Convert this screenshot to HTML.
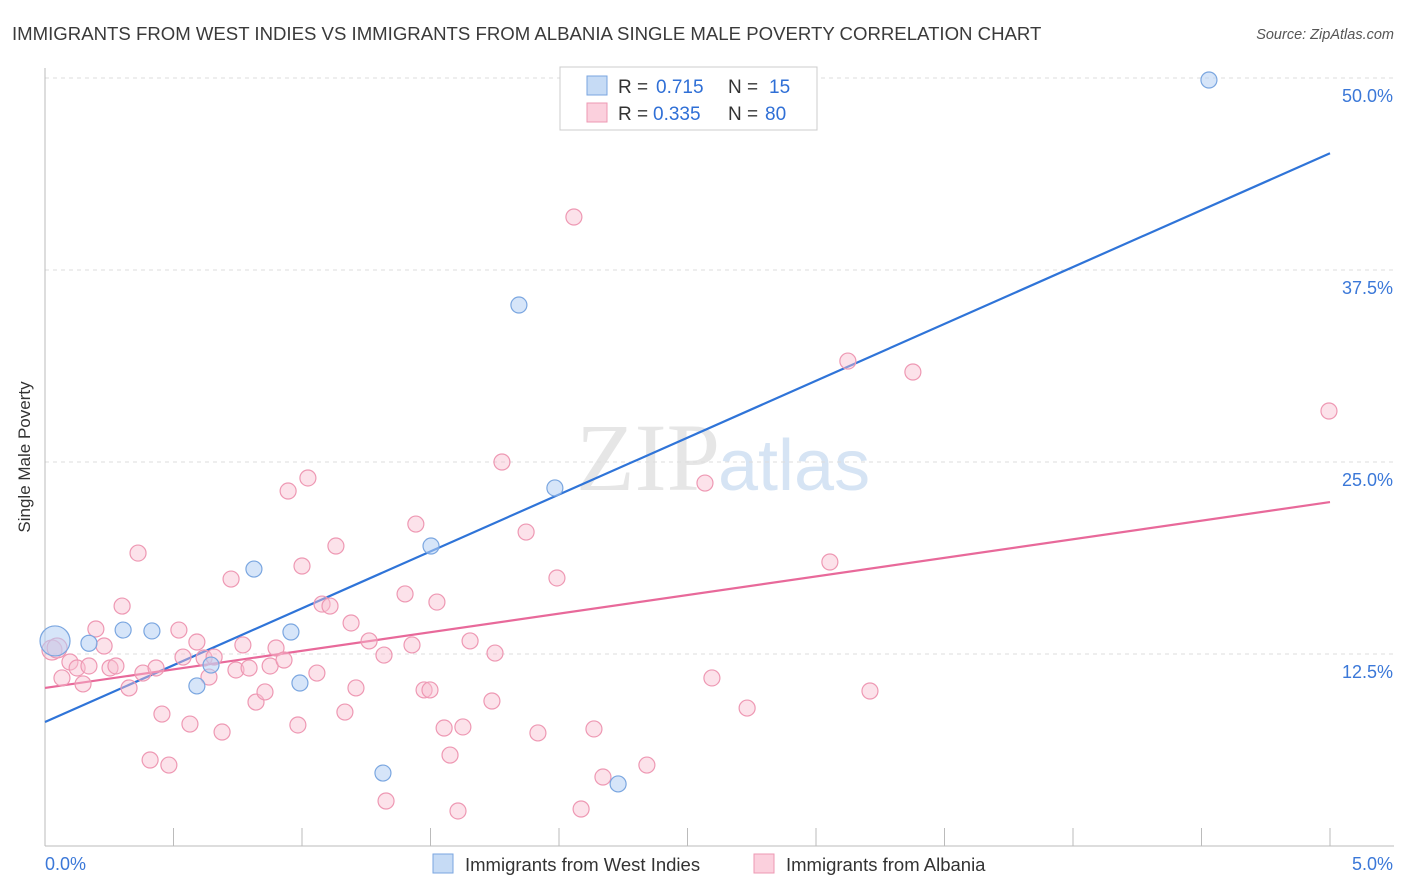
<!DOCTYPE html>
<html><head><meta charset="utf-8"><style>
body{margin:0;background:#fff;font-family:"Liberation Sans",sans-serif}
svg{display:block}
</style></head><body>
<svg id="c" width="1406" height="892">
<text x="12" y="40" font-size="18.6" fill="#3a3a3a">IMMIGRANTS FROM WEST INDIES VS IMMIGRANTS FROM ALBANIA SINGLE MALE POVERTY CORRELATION CHART</text>
<text x="1394" y="39" font-size="14.5" fill="#555" font-style="italic" text-anchor="end">Source: ZipAtlas.com</text>
<text x="30" y="457" font-size="17" fill="#333" text-anchor="middle" transform="rotate(-90 30 457)">Single Male Poverty</text>
<text x="720" y="490" font-size="96" font-family="Liberation Serif,serif" fill="#e6e6e6" text-anchor="end">ZIP</text>
<text x="718" y="490" font-size="72" fill="#d6e4f4">atlas</text>
<g id="grid"></g><g id="axes"></g><g id="trend"></g><g id="pts"></g>
<g>
<rect x="560" y="67" width="257" height="63" fill="#fff" stroke="#ccc"/>
<rect x="587" y="76" width="20" height="19" fill="#c6dbf5" stroke="#7aa6e0"/>
<rect x="587" y="103" width="20" height="19" fill="#fbd0dd" stroke="#ee98b3"/>
<text x="618" y="93" font-size="19" fill="#333">R =</text>
<text x="656" y="93" font-size="19" fill="#2f6fd6">0.715</text>
<text x="728" y="93" font-size="19" fill="#333">N =</text>
<text x="769" y="93" font-size="19" fill="#2f6fd6">15</text>
<text x="618" y="120" font-size="19" fill="#333">R =</text>
<text x="653" y="120" font-size="19" fill="#2f6fd6">0.335</text>
<text x="728" y="120" font-size="19" fill="#333">N =</text>
<text x="765" y="120" font-size="19" fill="#2f6fd6">80</text>
</g>
<g>
<rect x="433" y="854" width="20" height="19" fill="#c6dbf5" stroke="#7aa6e0"/>
<text x="465" y="871" font-size="18.5" fill="#333">Immigrants from West Indies</text>
<rect x="754" y="854" width="20" height="19" fill="#fbd0dd" stroke="#ee98b3"/>
<text x="786" y="871" font-size="18.5" fill="#333">Immigrants from Albania</text>
</g>
</svg>
<script>
const yTicks=[12.5,25,37.5,50];
const yTickLabels=["12.5%","25.0%","37.5%","50.0%"];
const xTicks=[0,0.5,1,1.5,2,2.5,3,3.5,4,4.5,5];
const blueX=[.039,.171,.304,.416,.591,.646,.813,.957,.992,1.315,1.502,1.844,1.984,2.23,4.529];
const blueY=[13.35,13.2,14.06,14.0,10.42,11.78,18.03,13.93,10.61,4.75,19.53,35.22,23.31,4.04,49.87];
const pinkX=[.027,.047,.066,.097,.125,.148,.171,.198,.23,.253,.276,.3,.327,.362,.381,.409,.432,.455,.482,.521,.537,.564,.591,.619,.638,.658,.689,.724,.743,.77,.794,.821,.856,.876,.899,.93,.946,.984,1.0,1.023,1.058,1.078,1.109,1.132,1.167,1.191,1.21,1.261,1.319,1.327,1.401,1.428,1.443,1.475,1.498,1.525,1.553,1.576,1.607,1.626,1.654,1.739,1.751,1.778,1.872,1.918,1.992,2.058,2.086,2.136,2.171,2.342,2.568,2.595,2.732,3.054,3.124,3.21,3.377,4.996];
const pinkY=[12.76,12.89,10.94,11.98,11.59,10.55,11.72,14.13,13.02,11.59,11.72,15.62,10.29,19.07,11.26,5.6,11.59,8.59,5.27,14.06,12.3,7.94,13.28,12.24,11.0,12.3,7.42,17.38,11.46,13.09,11.59,9.37,10.03,11.72,12.89,12.11,23.11,7.88,18.23,23.96,11.26,15.75,15.62,19.53,8.72,14.52,10.29,13.35,12.43,2.93,16.41,13.09,20.96,10.16,10.16,15.88,7.68,5.92,2.28,7.75,13.35,9.44,12.56,25.0,20.44,7.36,17.45,40.95,2.41,7.62,4.49,5.27,23.63,10.94,8.98,18.49,31.57,10.09,30.86,28.32];
const blueTrend=[8.07,45.1];
const pinkTrend=[10.29,22.39];
const X=v=>45+v/5*1285, Y=v=>846-v/12.5*192;
const NS="http://www.w3.org/2000/svg";
function mk(p,t,a){const e=document.createElementNS(NS,t);for(const k in a)e.setAttribute(k,a[k]);document.getElementById(p).appendChild(e);return e;}
yTicks.forEach((t,i)=>{
 const l=mk('grid','line',{x1:45,x2:1394,y1:Y(t),y2:Y(t),stroke:'#ddd','stroke-dasharray':'4 4'});
 
 
 const tx=mk('grid','text',{x:1393,y:Y(t)+24,'font-size':18,fill:'#3b78d8','text-anchor':'end'});
 tx.textContent=yTickLabels[i];
 
 
});
const ax=mk('axes','line',{x1:45,x2:1394,y1:846,y2:846,stroke:'#bbb'});


const ay=mk('axes','line',{x1:45,x2:45,y1:68,y2:846,stroke:'#bbb'});


xTicks.forEach(t=>{const l=mk('axes','line',{x1:X(t),x2:X(t),y1:828,y2:846,stroke:'#bbb'});
 
 });
[[45,'start','0.0%'],[1393,'end','5.0%']].forEach(a=>{const t=mk('axes','text',{x:a[0],y:870,'font-size':18,fill:'#3b78d8','text-anchor':a[1]});t.textContent=a[2];
 
 });
pinkX.forEach((x,i)=>{const c=mk('pts','circle',{cx:X(x),cy:Y(pinkY[i]),r:i<2?10:8,fill:'rgba(248,190,208,0.45)',stroke:'#ee98b3','stroke-width':1.2});
 
 });
blueX.forEach((x,i)=>{const c=mk('pts','circle',{cx:X(x),cy:Y(blueY[i]),r:i==0?15:8,fill:'rgba(180,208,244,0.55)',stroke:'#7aa6e0','stroke-width':1.2});
 
 });
const bt=mk('trend','line',{x1:X(0),x2:X(5),y1:Y(blueTrend[0]),y2:Y(blueTrend[1]),stroke:'#2f74d8','stroke-width':2.2});


const pt=mk('trend','line',{x1:X(0),x2:X(5),y1:Y(pinkTrend[0]),y2:Y(pinkTrend[1]),stroke:'#e8699a','stroke-width':2.2});


</script>
</body></html>
